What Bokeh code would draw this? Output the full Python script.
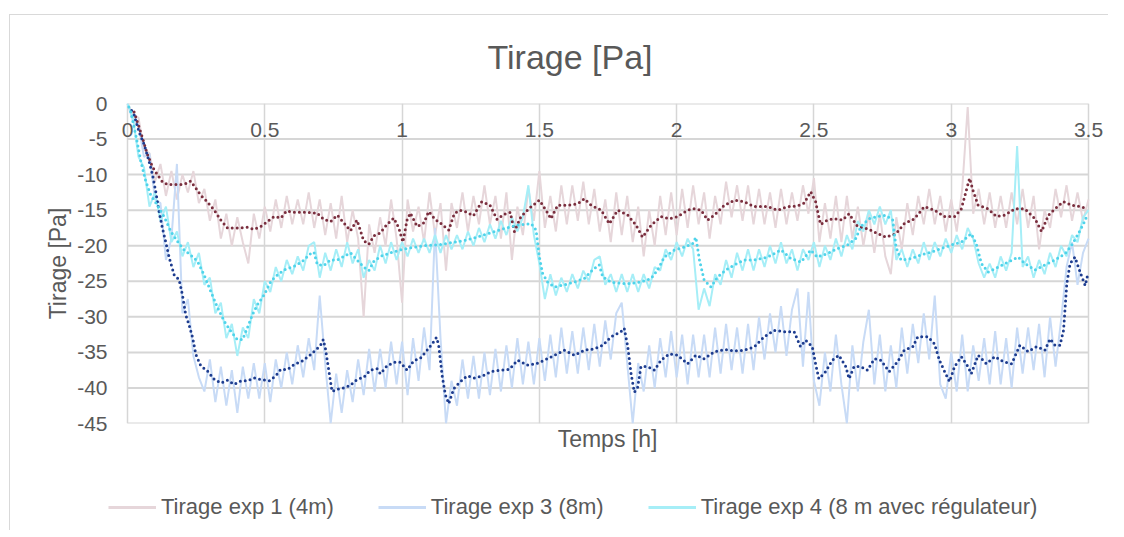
from bokeh.plotting import figure
from bokeh.layouts import column
from bokeh.models import Range1d, FixedTicker, Label, Legend, LegendItem
from bokeh.embed import file_html
from bokeh.resources import INLINE

# ---------------- data ----------------
raw_time = [round(i * 0.02, 2) for i in range(176)]

exp1_raw = [0.0, -1.5, -2.0, -6.5, -7.0, -11.0, -8.5, -13.0, -9.5, -13.5,
            -10.0, -12.5, -9.5, -14.0, -12.0, -16.5, -13.5, -19.0, -15.5, -20.0,
            -16.0, -19.5, -22.5, -15.5, -19.0, -14.5, -18.0, -13.5, -17.5, -13.0,
            -17.0, -13.5, -17.0, -12.5, -17.5, -13.5, -18.5, -14.0, -19.0, -13.0,
            -19.5, -15.0, -19.0, -30.0, -17.0, -21.0, -16.0, -20.0, -13.5, -19.0,
            -28.0, -13.5, -18.0, -14.5, -19.5, -12.5, -18.5, -14.0, -23.5, -14.0,
            -17.5, -12.5, -18.0, -13.0, -17.0, -11.5, -17.0, -13.0, -19.0, -12.5,
            -22.0, -14.5, -18.5, -12.0, -16.5, -9.5, -17.5, -13.0, -18.0, -11.5,
            -17.0, -11.5, -16.5, -11.0, -17.0, -12.0, -18.0, -13.5, -19.5, -12.5,
            -18.5, -13.0, -19.5, -14.5, -21.5, -15.0, -20.0, -13.0, -18.5, -12.5,
            -18.5, -12.0, -17.5, -11.5, -17.0, -12.5, -19.0, -13.0, -17.0, -11.0,
            -16.0, -11.5, -16.5, -11.5, -17.0, -12.0, -17.0, -12.5, -17.5, -12.0,
            -17.0, -12.5, -16.5, -11.5, -15.5, -10.5, -19.5, -14.0, -19.0, -13.0,
            -19.5, -13.0, -19.0, -14.5, -20.0, -15.5, -21.0, -15.5, -21.5, -24.0,
            -16.0, -20.5, -14.0, -18.5, -13.0, -17.0, -12.0, -17.0, -13.0, -18.0,
            -13.5, -18.0, -12.0, -0.5, -15.5, -12.0, -17.0, -12.5, -17.5, -13.0,
            -17.5, -12.5, -17.0, -12.0, -17.5, -13.0, -20.5, -15.0, -17.5, -12.0,
            -16.0, -11.5, -16.5, -12.5, -16.5, -13.5]

exp3_raw = [0.0, -2.5, -3.0, -7.5, -7.0, -13.5, -14.0, -22.0, -19.0, -8.5,
            -29.5, -27.5, -35.5, -38.5, -40.5, -36.0, -42.0, -37.0, -42.5, -37.5,
            -43.5, -37.0, -41.5, -36.5, -41.5, -36.5, -42.0, -36.0, -40.0, -35.0,
            -39.5, -34.0, -38.5, -33.0, -37.5, -27.0, -36.5, -45.0, -38.0, -43.5,
            -37.5, -42.0, -36.0, -41.0, -34.5, -40.5, -34.5, -40.0, -33.5, -39.5,
            -33.5, -41.0, -33.0, -39.0, -31.5, -37.5, -17.5, -33.0, -45.0, -39.0,
            -42.5, -36.0, -41.5, -35.5, -41.5, -35.0, -41.0, -34.5, -40.5, -34.0,
            -40.0, -33.0, -39.5, -33.5, -39.5, -33.0, -39.0, -32.5, -38.5, -31.5,
            -38.0, -32.0, -38.0, -31.5, -37.5, -31.0, -37.0, -30.5, -36.0, -29.5,
            -28.0, -36.5, -45.0, -36.5, -40.5, -34.0, -40.0, -33.0, -38.5, -32.0,
            -38.5, -32.5, -39.5, -32.5, -38.5, -32.5, -38.5, -31.5, -38.0, -31.0,
            -37.5, -31.5, -38.0, -31.0, -37.5, -30.0, -36.0, -29.5, -35.0, -28.5,
            -35.5, -29.0, -26.0, -37.0, -26.5, -39.0, -42.5, -35.0, -40.5, -32.5,
            -39.5, -45.0, -34.0, -40.5, -33.5, -29.0, -39.5, -32.5, -40.5, -34.0,
            -40.0, -31.5, -38.0, -31.0, -36.5, -29.5, -36.0, -27.0, -39.5, -41.5,
            -35.0, -40.5, -32.5, -40.5, -34.0, -39.0, -33.0, -39.5, -32.0, -39.5,
            -33.0, -40.0, -31.5, -38.0, -31.5, -37.5, -31.0, -38.5, -30.0, -37.0,
            -30.5, -23.0, -19.5, -25.5, -21.0, -19.0]

exp4_raw = [0.0, -2.0, -7.5, -9.0, -14.5, -12.5, -16.5, -14.5, -19.5, -18.0,
            -21.5, -19.5, -23.0, -21.0, -25.5, -24.5, -29.5, -28.0, -33.0, -31.0,
            -35.5, -31.5, -33.0, -27.5, -29.5, -25.0, -26.5, -23.0, -25.0, -22.0,
            -24.0, -21.5, -23.5, -20.0, -19.5, -24.5, -21.0, -23.5, -20.5, -23.0,
            -19.5, -22.5, -20.5, -24.5, -22.0, -23.5, -20.0, -22.5, -19.5, -22.0,
            -19.5, -21.5, -19.0, -21.0, -19.0, -21.0, -18.5, -21.0, -18.5, -20.5,
            -18.5, -20.5, -18.0, -20.0, -17.5, -19.5, -17.0, -19.0, -16.5, -18.5,
            -16.0, -18.0, -16.0, -11.5, -18.5, -22.5, -27.5, -24.0, -27.0, -24.5,
            -26.5, -24.0, -26.0, -23.5, -25.0, -22.0, -21.5, -25.5, -24.0, -26.5,
            -24.0, -26.5, -24.0, -26.5, -24.0, -26.0, -23.0, -23.5, -20.5, -22.0,
            -19.5, -21.5, -19.0, -20.5, -29.0, -26.0, -28.5, -24.0, -25.5, -22.0,
            -24.5, -21.0, -23.5, -20.5, -23.5, -20.5, -23.0, -20.0, -22.5, -19.5,
            -22.5, -20.5, -23.5, -20.5, -22.0, -19.5, -23.0, -20.0, -22.0, -19.0,
            -21.5, -18.5, -20.5, -16.5, -18.0, -15.0, -17.0, -14.5, -17.0, -15.0,
            -22.0, -20.5, -23.0, -20.5, -22.5, -19.5, -22.0, -19.5, -21.5, -19.0,
            -21.0, -18.5, -20.5, -17.5, -19.0, -22.5, -24.5, -22.5, -24.5, -21.5,
            -23.5, -21.0, -6.0, -23.0, -21.5, -24.5, -22.0, -24.0, -21.0, -23.0,
            -20.0, -21.5, -18.5, -19.5, -16.0, -15.0]

exp1_trend_t = [0.024, 0.042, 0.055, 0.073, 0.091, 0.109, 0.127, 0.146, 0.17, 0.194,
                0.218, 0.23, 0.249, 0.267, 0.29, 0.316, 0.34, 0.364, 0.388, 0.413,
                0.437, 0.461, 0.485, 0.51, 0.534, 0.558, 0.58, 0.607, 0.631, 0.655,
                0.68, 0.69, 0.715, 0.74, 0.764, 0.788, 0.812, 0.836, 0.86, 0.879,
                0.897, 0.92, 0.945, 0.97, 0.988, 1.003, 1.018, 1.03, 1.055, 1.079,
                1.097, 1.121, 1.142, 1.17, 1.19, 1.21, 1.23, 1.26, 1.29, 1.32,
                1.346, 1.37, 1.394, 1.409, 1.433, 1.47, 1.5, 1.524, 1.542, 1.567,
                1.603, 1.64, 1.664, 1.688, 1.725, 1.755, 1.785, 1.822, 1.852, 1.876,
                1.907, 1.943, 1.973, 2.004, 2.04, 2.064, 2.089, 2.113, 2.137, 2.174,
                2.21, 2.246, 2.283, 2.331, 2.368, 2.404, 2.44, 2.465, 2.488, 2.506,
                2.524, 2.549, 2.573, 2.604, 2.628, 2.659, 2.695, 2.732, 2.762, 2.799,
                2.829, 2.866, 2.902, 2.939, 2.976, 3.012, 3.037, 3.055, 3.067, 3.079,
                3.098, 3.134, 3.165, 3.195, 3.232, 3.268, 3.305, 3.329, 3.354, 3.378,
                3.409, 3.439, 3.47, 3.494]
exp1_trend = [-1.2, -3.3, -4.9, -7.2, -8.9, -10.0, -11.0, -11.4, -11.4, -11.4,
              -11.2, -10.9, -11.9, -12.9, -13.8, -15.0, -16.4, -17.5, -17.5, -17.5,
              -17.4, -17.7, -17.3, -16.6, -15.9, -16.1, -15.1, -15.3, -15.3, -15.3,
              -15.4, -15.4, -16.3, -16.6, -15.7, -16.8, -17.9, -16.4, -19.3, -19.8,
              -18.6, -18.2, -17.0, -16.1, -17.5, -19.5, -16.4, -15.4, -17.3, -16.8,
              -15.2, -16.3, -16.9, -17.8, -15.5, -15.0, -15.2, -15.8, -13.8, -14.3,
              -16.3, -15.6, -15.3, -18.0, -15.9, -14.5, -13.6, -15.0, -16.2, -14.3,
              -14.3, -14.1, -13.4, -14.3, -15.0, -16.9, -15.0, -15.7, -17.1, -18.8,
              -17.1, -15.9, -16.2, -15.9, -15.0, -14.8, -15.0, -16.4, -15.7, -14.3,
              -13.6, -13.8, -14.5, -14.5, -15.0, -14.5, -14.4, -14.0, -12.4, -13.8,
              -17.0, -16.4, -16.2, -16.4, -15.5, -17.3, -17.6, -18.3, -18.8, -18.3,
              -16.9, -16.2, -14.5, -15.0, -15.9, -15.9, -14.8, -12.2, -10.5, -12.2,
              -14.3, -14.8, -15.9, -15.7, -14.8, -14.8, -16.2, -18.0, -15.7, -14.8,
              -13.8, -14.3, -14.5, -14.8]

exp3_trend_t = [0.015, 0.024, 0.042, 0.061, 0.079, 0.091, 0.103, 0.115, 0.127, 0.14,
                0.152, 0.17, 0.188, 0.2, 0.212, 0.224, 0.237, 0.249, 0.267, 0.291,
                0.316, 0.34, 0.364, 0.388, 0.413, 0.437, 0.461, 0.485, 0.516, 0.54,
                0.558, 0.583, 0.607, 0.637, 0.667, 0.69, 0.703, 0.713, 0.721, 0.733,
                0.745, 0.764, 0.788, 0.812, 0.836, 0.86, 0.885, 0.909, 0.921, 0.945,
                0.97, 0.994, 1.018, 1.042, 1.067, 1.091, 1.115, 1.125, 1.133, 1.146,
                1.158, 1.17, 1.188, 1.21, 1.237, 1.263, 1.294, 1.324, 1.358, 1.39,
                1.421, 1.458, 1.488, 1.518, 1.555, 1.591, 1.627, 1.664, 1.7, 1.731,
                1.761, 1.797, 1.809, 1.822, 1.834, 1.846, 1.858, 1.87, 1.894, 1.919,
                1.943, 1.973, 2.004, 2.04, 2.07, 2.1, 2.137, 2.174, 2.21, 2.246,
                2.283, 2.319, 2.356, 2.392, 2.428, 2.451, 2.47, 2.494, 2.506, 2.518,
                2.543, 2.567, 2.591, 2.616, 2.628, 2.646, 2.671, 2.695, 2.72, 2.744,
                2.774, 2.805, 2.829, 2.86, 2.878, 2.915, 2.939, 2.957, 2.976, 2.994,
                3.012, 3.037, 3.061, 3.073, 3.098, 3.128, 3.159, 3.189, 3.22, 3.25,
                3.28, 3.311, 3.341, 3.36, 3.378, 3.396, 3.409, 3.415, 3.421, 3.433,
                3.451, 3.463, 3.476, 3.488, 3.498]
exp3_trend = [-1.0, -1.6, -4.0, -5.8, -8.2, -10.0, -12.4, -15.2, -17.5, -19.6,
              -21.7, -24.1, -24.8, -26.9, -29.7, -31.1, -32.9, -35.3, -36.9, -37.6,
              -38.8, -39.3, -38.9, -39.5, -39.0, -39.0, -38.6, -38.8, -39.0, -38.3,
              -37.4, -37.4, -36.7, -36.2, -35.3, -34.5, -34.0, -33.2, -34.5, -37.5,
              -40.5, -40.2, -40.0, -39.6, -38.8, -38.5, -37.5, -37.3, -38.0, -36.9,
              -36.4, -36.4, -37.5, -36.2, -35.8, -34.7, -33.5, -32.9, -33.9, -38.3,
              -41.0, -42.2, -40.1, -39.2, -38.3, -38.6, -38.3, -37.7, -37.5, -37.4,
              -36.1, -36.8, -36.6, -36.1, -35.4, -34.7, -35.4, -34.7, -34.5, -34.0,
              -32.8, -32.1, -31.6, -34.2, -38.0, -40.6, -39.9, -37.0, -37.0, -37.5,
              -36.1, -35.2, -35.4, -36.6, -35.4, -35.9, -34.9, -34.6, -34.8, -34.7,
              -34.2, -32.8, -31.9, -32.1, -32.1, -34.2, -33.3, -34.2, -36.6, -38.7,
              -37.7, -36.1, -35.4, -37.0, -38.7, -37.0, -37.0, -37.5, -35.9, -36.1,
              -37.7, -36.3, -34.7, -34.2, -32.8, -32.8, -33.8, -36.1, -37.7, -39.1,
              -37.0, -35.6, -37.0, -38.0, -35.4, -36.6, -35.6, -36.3, -36.6, -34.0,
              -34.9, -34.2, -34.7, -33.1, -34.0, -34.0, -31.9, -28.6, -25.3, -22.5,
              -21.6, -23.0, -24.4, -25.6, -23.9]

exp4_trend_t = [0.005, 0.012, 0.03, 0.049, 0.067, 0.085, 0.109, 0.133, 0.158, 0.182,
                0.206, 0.23, 0.255, 0.279, 0.303, 0.328, 0.352, 0.376, 0.4, 0.419,
                0.437, 0.455, 0.473, 0.498, 0.522, 0.546, 0.57, 0.607, 0.637, 0.667,
                0.679, 0.691, 0.715, 0.739, 0.764, 0.788, 0.812, 0.836, 0.86, 0.879,
                0.897, 0.921, 0.958, 0.994, 1.03, 1.079, 1.127, 1.176, 1.224, 1.273,
                1.322, 1.37, 1.421, 1.47, 1.488, 1.5, 1.512, 1.53, 1.555, 1.591,
                1.627, 1.664, 1.694, 1.718, 1.731, 1.761, 1.797, 1.834, 1.87, 1.907,
                1.931, 1.955, 1.992, 2.028, 2.058, 2.07, 2.083, 2.1, 2.125, 2.149,
                2.18, 2.21, 2.246, 2.283, 2.331, 2.38, 2.416, 2.453, 2.488, 2.512,
                2.549, 2.585, 2.622, 2.652, 2.671, 2.701, 2.732, 2.762, 2.787, 2.799,
                2.817, 2.854, 2.89, 2.927, 2.963, 3.0, 3.037, 3.073, 3.091, 3.11,
                3.134, 3.171, 3.207, 3.244, 3.268, 3.305, 3.341, 3.378, 3.415, 3.439,
                3.463, 3.482, 3.498]
exp4_trend = [-0.5, -1.2, -4.4, -8.2, -11.0, -12.9, -14.3, -15.9, -18.0, -19.4,
              -20.6, -21.3, -22.2, -24.1, -26.4, -28.7, -30.6, -32.0, -33.2, -33.2,
              -31.5, -29.7, -28.3, -26.9, -25.0, -24.1, -23.4, -22.9, -22.2, -21.1,
              -20.9, -22.6, -22.8, -22.0, -22.0, -21.5, -21.0, -22.0, -23.0, -23.5,
              -22.2, -21.5, -21.0, -20.6, -20.3, -20.0, -19.9, -19.6, -19.3, -18.8,
              -18.2, -17.6, -17.1, -16.9, -17.8, -21.6, -23.9, -25.1, -25.8, -25.5,
              -25.1, -24.6, -23.4, -22.7, -24.4, -25.1, -25.3, -25.3, -25.1, -24.6,
              -23.4, -21.6, -20.6, -20.2, -19.7, -18.8, -22.0, -24.8, -25.8, -24.4,
              -23.4, -22.7, -22.0, -22.0, -21.6, -20.6, -21.8, -22.3, -20.6, -21.6,
              -21.1, -20.4, -19.9, -19.0, -17.3, -16.2, -15.9, -15.7, -16.4, -20.2,
              -22.0, -21.8, -21.3, -20.9, -20.4, -19.9, -19.5, -18.3, -19.7, -22.5,
              -23.7, -23.0, -22.3, -21.6, -22.5, -23.4, -22.7, -22.0, -21.1, -19.9,
              -18.3, -16.9, -15.5]

series_names = ["Tirage exp 1 (4m)", "Tirage exp 3 (8m)", "Tirage exp 4 (8 m avec régulateur)"]
x_ticks = [0, 0.5, 1, 1.5, 2, 2.5, 3, 3.5]
x_tick_labels = ["0", "0.5", "1", "1.5", "2", "2.5", "3", "3.5"]
y_ticks = [0, -5, -10, -15, -20, -25, -30, -35, -40, -45]
y_tick_labels = ["0", "-5", "-10", "-15", "-20", "-25", "-30", "-35", "-40", "-45"]
X_MIN, X_MAX = 0, 3.5
Y_MIN, Y_MAX = -45, 0

# ---------------- styling ----------------
FONT = "Liberation Sans"
TXT = "#595959"
GRID = "#d6d6d6"
raw_colors = ["#e6d6da", "#c8dbf6", "#a6eef7"]
trend_colors = ["#7a2e3e", "#1d3c8f", "#4fd3ea"]

p = figure(width=1108, height=470, output_backend="svg", toolbar_location=None,
           x_range=Range1d(-0.0692, 3.5655), y_range=Range1d(Y_MIN, Y_MAX),
           min_border_left=108, min_border_right=2, min_border_top=103, min_border_bottom=47,
           background_fill_color="white", border_fill_alpha=0)
p.outline_line_color = None

p.title.text = "Tirage [Pa]"
p.title.align = "left"
p.title.offset = 379
p.title.text_font = FONT
p.title.text_font_size = "34px"
p.title.text_font_style = "normal"
p.title.text_color = TXT
p.title.standoff = 56

# y axis
p.yaxis.ticker = FixedTicker(ticks=y_ticks)
p.yaxis.major_label_overrides = {v: s for v, s in zip(y_ticks, y_tick_labels)}
p.yaxis.axis_label = "Tirage [Pa]"
p.yaxis.axis_label_text_font = FONT
p.yaxis.axis_label_text_font_size = "23px"
p.yaxis.axis_label_text_font_style = "normal"
p.yaxis.axis_label_text_color = TXT
p.yaxis.axis_label_standoff = 3
p.yaxis.major_label_text_font = FONT
p.yaxis.major_label_text_font_size = "21px"
p.yaxis.major_label_text_color = TXT
p.yaxis.major_label_standoff = 1
p.yaxis.major_tick_in = 0
p.yaxis.major_tick_out = 0
p.yaxis.axis_line_color = None
p.yaxis.major_tick_line_color = None
p.yaxis.minor_tick_line_color = None

# x axis: only its title below; tick labels drawn inside under the 0 line
p.xaxis.ticker = FixedTicker(ticks=x_ticks)
p.xaxis.major_label_text_color = None
p.xaxis.major_label_text_font_size = "4px"
p.xaxis.major_label_standoff = 0
p.xaxis.major_tick_in = 0
p.xaxis.major_tick_out = 0
p.xaxis.axis_label = "Temps [h]"
p.xaxis.axis_label_text_font = FONT
p.xaxis.axis_label_text_font_size = "23px"
p.xaxis.axis_label_text_font_style = "normal"
p.xaxis.axis_label_text_color = TXT
p.xaxis.axis_label_standoff = 2
p.xaxis.axis_line_color = None
p.xaxis.major_tick_line_color = None
p.xaxis.minor_tick_line_color = None

# grid: vertical lines from the x ticker, horizontal lines spanning 0..3.5 only
p.xgrid.grid_line_color = GRID
p.xgrid.grid_line_width = 1.5
p.ygrid.visible = False
p.segment(x0=[X_MIN] * len(y_ticks), x1=[X_MAX] * len(y_ticks), y0=y_ticks, y1=y_ticks,
          line_color=GRID, line_width=2)

for xv, txt in zip(x_ticks, x_tick_labels):
    p.add_layout(Label(x=xv, y=-3.7, text=txt, text_align="center", text_baseline="middle",
                       text_font=FONT, text_font_size="21px", text_color=TXT))

# raw series
for ys, c in zip([exp1_raw, exp3_raw, exp4_raw], raw_colors):
    p.line(raw_time, ys, line_color=c, line_width=2)

# moving-average trends (dotted)
trends = [(exp1_trend_t, exp1_trend), (exp3_trend_t, exp3_trend), (exp4_trend_t, exp4_trend)]
for (tx, ty), c in zip(trends, trend_colors):
    p.line(tx, ty, line_color=c, line_width=3, line_dash="0 5", line_cap="round")

# legend strip underneath
lg = figure(width=1108, height=60, output_backend="svg", toolbar_location=None,
            x_axis_type=None, y_axis_type=None, x_range=Range1d(0, 1), y_range=Range1d(0, 1),
            min_border_left=108, min_border_right=2, min_border_top=14, min_border_bottom=0,
            background_fill_alpha=0, border_fill_alpha=0)
lg.outline_line_color = None
lg.grid.visible = False
items = []
for n, c in zip(series_names, raw_colors):
    r = lg.line(x=[float("nan")], y=[float("nan")], line_color=c, line_width=3)
    items.append(LegendItem(label=n, renderers=[r]))
legend = Legend(items=items, orientation="horizontal", location="left",
                label_text_font=FONT, label_text_font_size="22px", label_text_color=TXT,
                glyph_width=48, glyph_height=20, label_standoff=5, spacing=44,
                border_line_color=None, background_fill_alpha=0, padding=0, margin=0)
lg.add_layout(legend, "center")

layout = column(p, lg, spacing=0)
layout.styles = {
    "background": "linear-gradient(#d9d9d9, #d9d9d9) 9px 14px / 1px 100% no-repeat, "
                  "linear-gradient(#d9d9d9, #d9d9d9) 9px 14px / 100% 1px no-repeat, white"
}
open("out.html", "w").write(file_html(layout, INLINE))
